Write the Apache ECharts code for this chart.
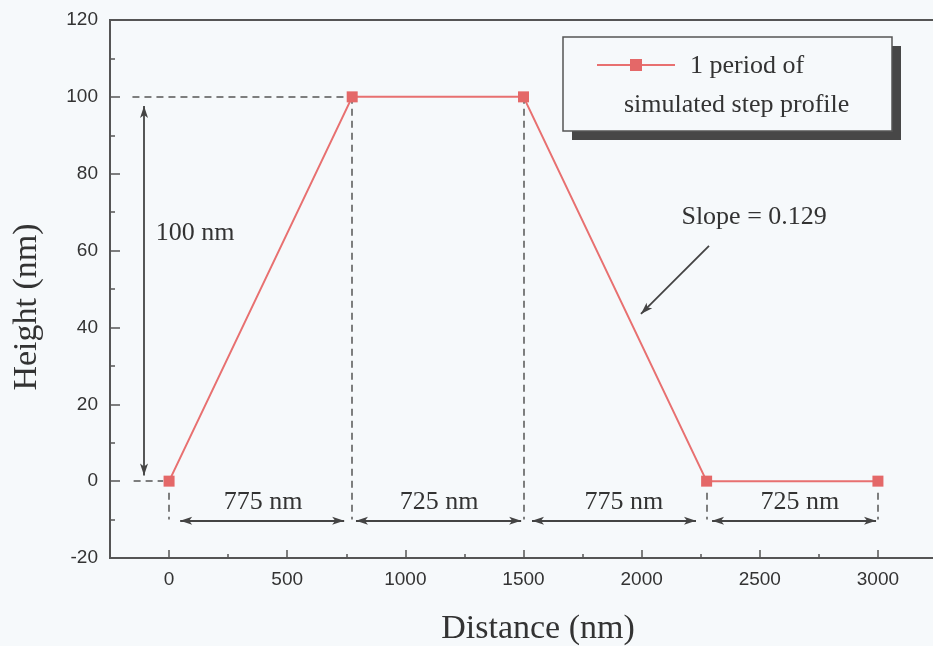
<!DOCTYPE html>
<html>
<head>
<meta charset="utf-8">
<script src="https://cdn.jsdelivr.net/npm/echarts@6/dist/echarts.min.js"></script>
<style>
  html, body { margin: 0; padding: 0; background: #f6f9fb; }
  #chart { width: 933px; height: 646px; }
</style>
</head>
<body>
<div id="chart"></div>
<script>
// One period of the simulated step profile
const distance = [0, 775, 1500, 2275, 3000];
const heightNm = [0, 100, 100, 0, 0];
const seriesName = '1 period of simulated step profile';

// Axis ticks
const xLabelValues = [0, 500, 1000, 1500, 2000, 2500, 3000];
const xMinorValues = [250, 750, 1250, 1750, 2250, 2750];
const xRange = [-250, 3250];
const yRange = [-20, 120];
const yStep = 20;

// Dashed guide lines [x1, y1, x2, y2]
const guideLines = [
  [-155, 100, 775, 100],
  [-150, 0, -25, 0],
  [0, -3, 0, -10],
  [775, 100, 775, -10],
  [1500, 100, 1500, -10],
  [2275, -3, 2275, -10],
  [3000, -3, 3000, -10]
];
// Double-headed dimension arrows [x1, y1, x2, y2]
const dimArrows = [
  [-106, 97.6, -106, 1.5],
  [47, -10.3, 741, -10.3],
  [791, -10.3, 1490, -10.3],
  [1536, -10.3, 2230, -10.3],
  [2298, -10.3, 2992, -10.3]
];
// Single-headed pointer to the falling edge
const slopeArrow = [2285, 61.2, 1997, 43.5];

// Annotation texts [x, y, text]
const notes = [
  [110, 64.5, '100 nm'],
  [398, -5.6, '775 nm'],
  [1143, -5.6, '725 nm'],
  [1925, -5.6, '775 nm'],
  [2670, -5.6, '725 nm'],
  [2476, 68.7, 'Slope = 0.129']
];

const ink = '#333';
const axisInk = '#555';
const red = '#e87070';
const serif = '"Liberation Serif", "Times New Roman", serif';
const sans = '"Liberation Sans", Arial, sans-serif';

const pair = (a) => [{ coord: [a[0], a[1]] }, { coord: [a[2], a[3]] }];
const plain = (v) => String(v);

const chart = echarts.init(document.getElementById('chart'), null, { renderer: 'canvas' });

chart.setOption({
  backgroundColor: '#f6f9fb',
  animation: false,
  grid: {
    left: 110, top: 20, width: 827, height: 538,
    show: true, borderColor: axisInk, borderWidth: 2,
    backgroundColor: 'transparent',
    outerBoundsMode: 'none'
  },
  xAxis: [
    {
      type: 'value', min: xRange[0], max: xRange[1],
      axisLine: { show: true, onZero: false, lineStyle: { color: axisInk, width: 2 } },
      axisTick: { show: true, inside: true, length: 8, customValues: xLabelValues,
                  lineStyle: { color: axisInk, width: 1.5 } },
      axisLabel: { show: true, customValues: xLabelValues, margin: 12, formatter: plain,
                   color: ink, fontFamily: sans, fontSize: 19 },
      splitLine: { show: false }
    },
    {
      type: 'value', min: xRange[0], max: xRange[1], position: 'bottom',
      axisLine: { show: false, onZero: false },
      axisTick: { show: true, inside: true, length: 4, customValues: xMinorValues,
                  lineStyle: { color: axisInk, width: 1.5 } },
      axisLabel: { show: false },
      splitLine: { show: false }
    }
  ],
  yAxis: {
    type: 'value', min: yRange[0], max: yRange[1], interval: yStep,
    axisLine: { show: true, onZero: false, lineStyle: { color: axisInk, width: 2 } },
    axisTick: { show: true, inside: true, length: 10, lineStyle: { color: axisInk, width: 1.5 } },
    minorTick: { show: true, splitNumber: 2, length: 5, lineStyle: { color: axisInk, width: 1.5 } },
    axisLabel: { margin: 12, color: ink, fontFamily: sans, fontSize: 19, formatter: plain },
    splitLine: { show: false }
  },
  series: [
    {
      name: 'guides', type: 'line', data: [], silent: true, z: 1,
      markLine: {
        silent: true, symbol: 'none', animation: false,
        label: { show: false },
        lineStyle: { color: axisInk, width: 1.5, type: [7, 5] },
        data: guideLines.map(pair)
      }
    },
    {
      name: 'arrows', type: 'line', data: [], silent: true, z: 2,
      markLine: {
        silent: true, animation: false,
        symbol: ['arrow', 'arrow'], symbolSize: [6, 12],
        label: { show: false },
        lineStyle: { color: '#444', width: 1.8, type: 'solid' },
        data: dimArrows.map(pair).concat([[
          { coord: [slopeArrow[0], slopeArrow[1]], symbol: 'none' },
          { coord: [slopeArrow[2], slopeArrow[3]], symbol: 'arrow' }
        ]])
      },
      markPoint: {
        silent: true, animation: false, symbol: 'circle', symbolSize: 0,
        label: {
          show: true, position: 'inside', formatter: '{b}',
          color: ink, fontFamily: serif, fontSize: 26
        },
        data: notes.map(n => ({ coord: [n[0], n[1]], name: n[2] }))
      }
    },
    {
      name: seriesName, type: 'line', z: 5,
      data: distance.map((d, i) => [d, heightNm[i]]),
      symbol: 'rect', symbolSize: 11,
      itemStyle: { color: '#e46868' },
      lineStyle: { color: red, width: 2 }
    }
  ],
  graphic: [
    // legend box with hard drop shadow
    { type: 'rect', shape: { x: 572, y: 46, width: 329, height: 94 }, style: { fill: '#474747' }, z: 10 },
    { type: 'rect', shape: { x: 563, y: 37, width: 329, height: 94 },
      style: { fill: '#f6f9fb', stroke: axisInk, lineWidth: 1.5 }, z: 11 },
    { type: 'line', shape: { x1: 597, y1: 65, x2: 675, y2: 65 },
      style: { stroke: red, lineWidth: 2 }, z: 12 },
    { type: 'rect', shape: { x: 630, y: 59, width: 12, height: 12 },
      style: { fill: '#e46868' }, z: 13 },
    { type: 'text', x: 690, y: 66, z: 12,
      style: { text: '1 period of', fill: ink, font: '26px ' + serif, textVerticalAlign: 'middle' } },
    { type: 'text', x: 624, y: 105, z: 12,
      style: { text: 'simulated step profile', fill: ink, font: '26px ' + serif, textVerticalAlign: 'middle' } },
    // axis titles
    { type: 'text', x: 538, y: 629, z: 12,
      style: { text: 'Distance (nm)', fill: ink, font: '34px ' + serif,
               textAlign: 'center', textVerticalAlign: 'middle' } },
    { type: 'text', x: 27, y: 307, rotation: Math.PI / 2, z: 12,
      style: { text: 'Height (nm)', fill: ink, font: '34px ' + serif,
               textAlign: 'center', textVerticalAlign: 'middle' } }
  ]
});
</script>
</body>
</html>
